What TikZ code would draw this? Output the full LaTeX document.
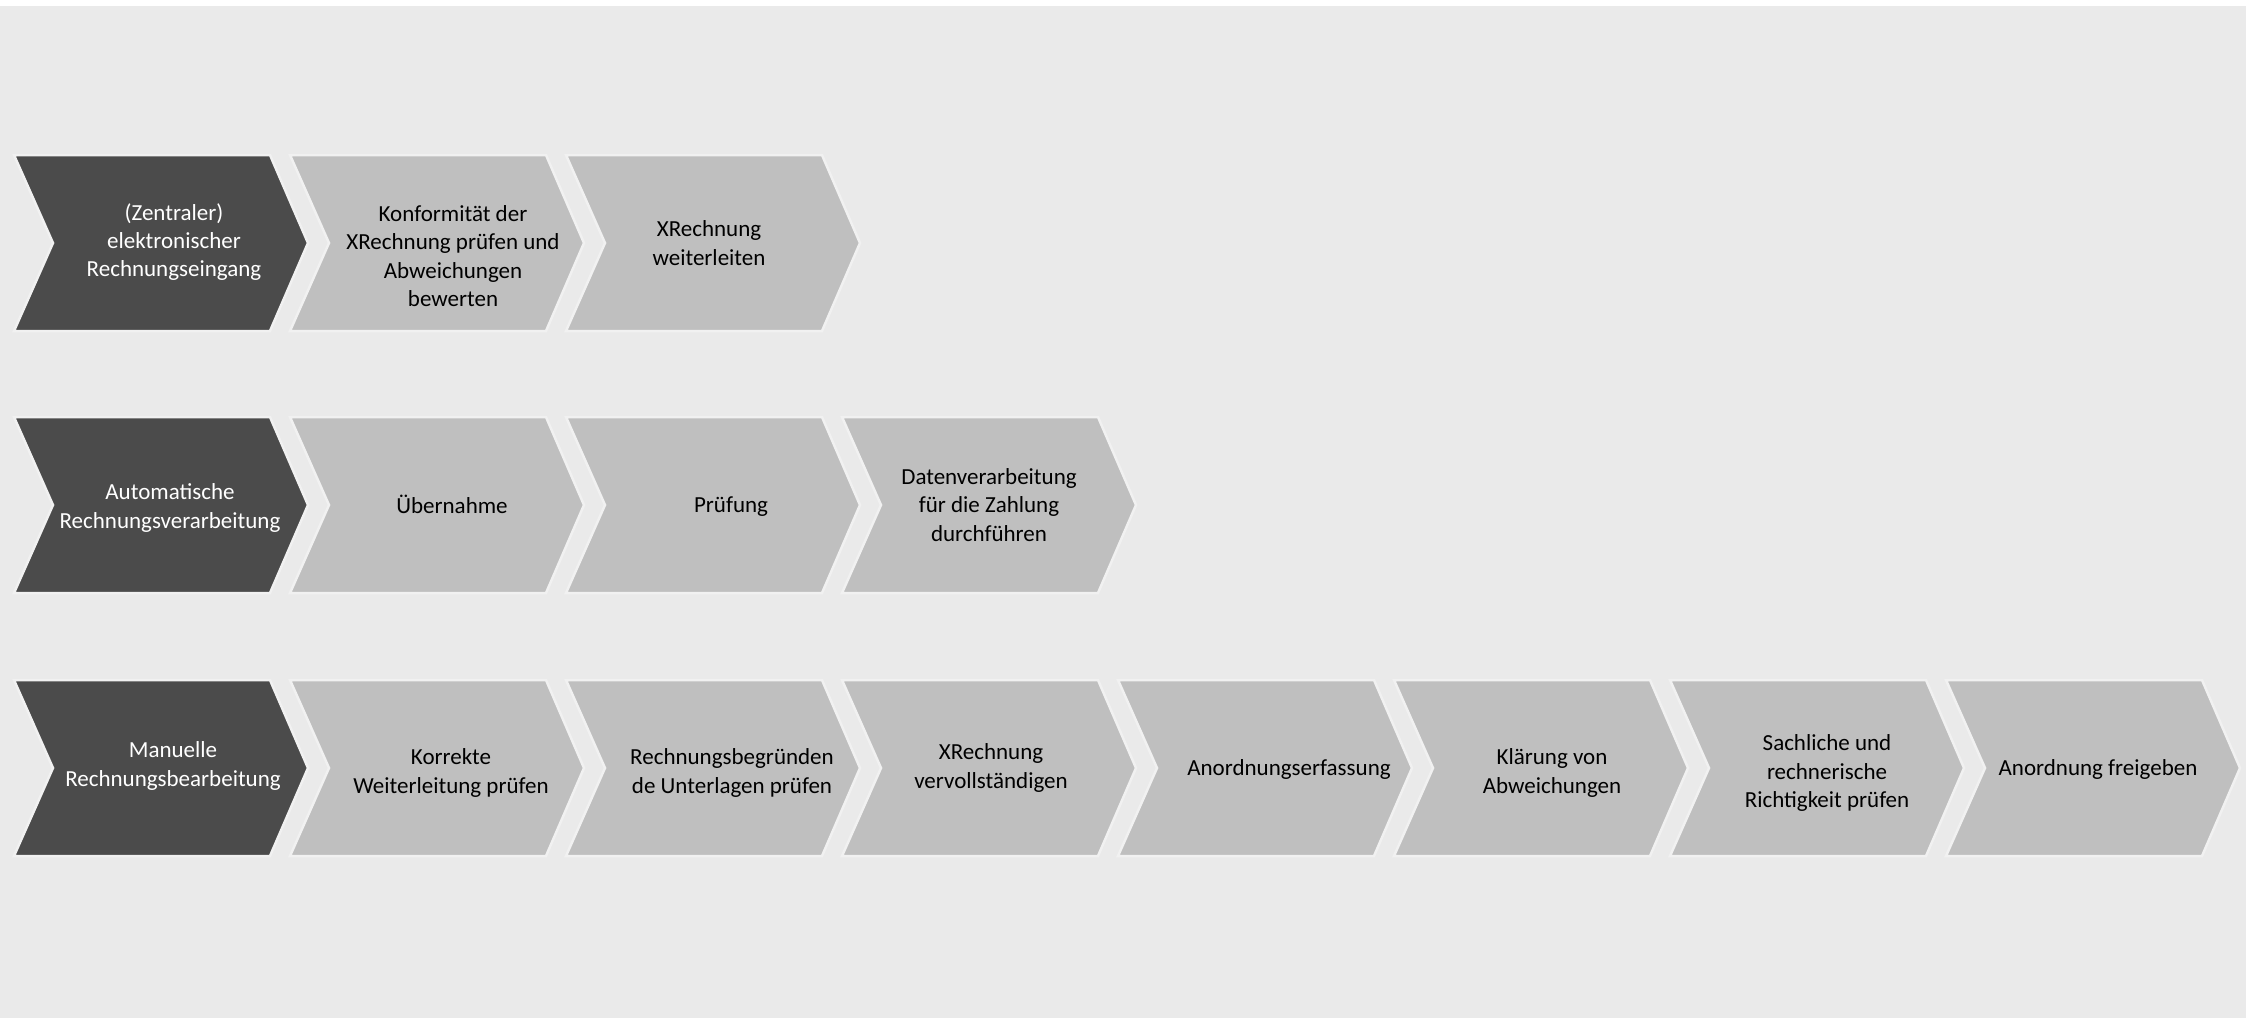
\documentclass[tikz,border=0pt]{standalone}
\usepackage{fontspec}
\setmainfont{Carlito}
\definecolor{bgc}{HTML}{EAEAEA}
\definecolor{darkc}{HTML}{4B4B4B}
\definecolor{lightc}{HTML}{BFBFBF}
\definecolor{haloc}{HTML}{F1F1F1}
\newcommand\chevshape[3]{% left, top, fill colour
  \fill[#3, draw=haloc, line width=2.5pt, line join=miter]
    (#1,#2) -- ++(256,0) -- ++(38,88) -- ++(-38,88) -- ++(-256,0) -- ++(39,-88) -- cycle;}
\begin{document}
\begin{tikzpicture}[x=1pt,y=-1pt,
  lbl/.style={align=center, inner sep=0pt, font=\fontsize{23}{28.3}\selectfont},
  dlbl/.style={lbl, text=white},
  glbl/.style={lbl, text=black}]
\fill[white] (0,0) rectangle (2246,1018);
\fill[bgc] (0,6) rectangle (2246,1018);
\useasboundingbox (0,0) rectangle (2246,1018);
% row 1
\chevshape{14}{155}{darkc}
\foreach \i in {1,2} {\chevshape{14+276*\i}{155}{lightc}}
% row 2
\chevshape{14}{417}{darkc}
\foreach \i in {1,2,3} {\chevshape{14+276*\i}{417}{lightc}}
% row 3
\chevshape{14}{680}{darkc}
\foreach \i in {1,...,7} {\chevshape{14+276*\i}{680}{lightc}}
% labels
\node[dlbl] (n11) at (174,242) {(Zentraler)\\elektronischer\\Rechnungseingang};
\node[glbl] (n12) at (453,256) {Konformität der\\XRechnung prüfen und\\Abweichungen\\bewerten};
\node[glbl] (n13) at (709,243) {XRechnung\\weiterleiten};
\node[dlbl] (n21) at (170,508) {Automatische\\Rechnungsverarbeitung};
\node[glbl] (n22) at (452,504) {Übernahme};
\node[glbl] (n23) at (731,507) {Prüfung};
\node[glbl] (n24) at (989,505) {Datenverarbeitung\\für die Zahlung\\durchführen};
\node[dlbl] (n31) at (173,766) {Manuelle\\Rechnungsbearbeitung};
\node[glbl] (n32) at (451,773) {Korrekte\\Weiterleitung prüfen};
\node[glbl] (n33) at (732,773) {Rechnungsbegründen\\de Unterlagen prüfen};
\node[glbl] (n34) at (991,768) {XRechnung\\vervollständigen};
\node[glbl] (n35) at (1289,769) {Anordnungserfassung};
\node[glbl] (n36) at (1552,773) {Klärung von\\Abweichungen};
\node[glbl] (n37) at (1827,773) {Sachliche und\\rechnerische\\Richtigkeit prüfen};
\node[glbl] (n38) at (2098,769) {Anordnung freigeben};
\end{tikzpicture}
\end{document}
